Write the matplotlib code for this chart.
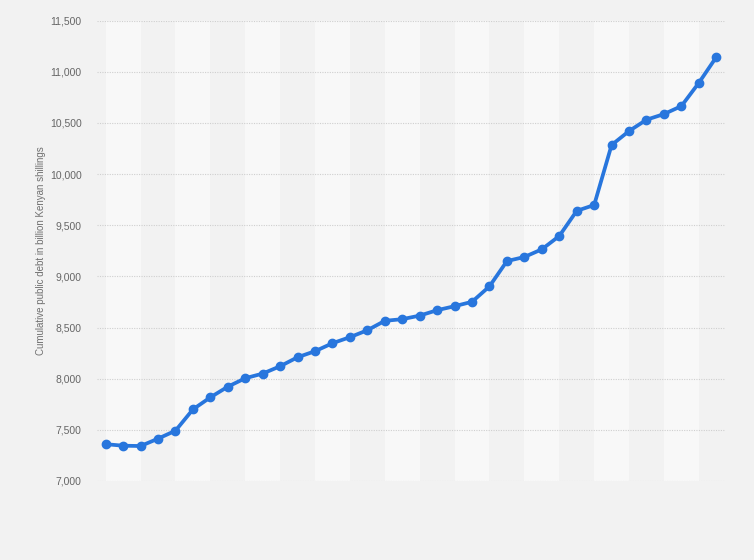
import numpy as np
import matplotlib
matplotlib.use('Agg')
import matplotlib.pyplot as plt

plt.rcParams['font.family'] = ['Liberation Sans', 'DejaVu Sans']

# cumulative public debt, billion KSh
debt = [7360, 7345, 7342, 7414, 7492, 7700, 7818, 7922, 8005, 8050,
        8122, 8210, 8269, 8347, 8406, 8474, 8566, 8582, 8617, 8670,
        8709, 8752, 8903, 9150, 9190, 9265, 9395, 9641, 9698, 10285,
        10421, 10532, 10587, 10665, 10892, 11144]
yticks = [7000, 7500, 8000, 8500, 9000, 9500, 10000, 10500, 11000, 11500]
ylabel = 'Cumulative public debt in billion Kenyan shillings'

x = np.arange(len(debt))

fig = plt.figure(figsize=(7.54, 5.6), dpi=100)
fig.patch.set_facecolor('#f2f2f2')
ax = fig.add_axes([97/754, 1-481/560, (725-97)/754, (481-20.7)/560])
ax.set_facecolor('#f2f2f2')

# alternating column bands
for k in range(0, len(debt) - 2, 4):
    ax.axvspan(k, k + 2, color='#f8f8f8', lw=0, zorder=0)

for t in yticks:
    ax.axhline(t, color='#cfcfcf', lw=0.8, ls=(0, (1, 1.2)), zorder=1)

ax.plot(x, debt, color='#2876dd', lw=2.7, marker='o', ms=6,
        solid_joinstyle='round', zorder=3)

ax.set_xlim(-0.5, 35.5)
ax.set_ylim(7000, 11500)
ax.set_yticks(yticks)
ax.set_yticklabels([f'{t:,}' for t in yticks], fontsize=7.5, color='#666666')
ax.set_xticks([])
ax.tick_params(axis='y', length=0, pad=11)
for s in ax.spines.values():
    s.set_visible(False)

ax.set_ylabel(ylabel, fontsize=7, color='#707070')
ax.yaxis.set_label_coords((46 - 97) / 628, 0.5)

fig.savefig('out.png', dpi=100, facecolor=fig.get_facecolor())
